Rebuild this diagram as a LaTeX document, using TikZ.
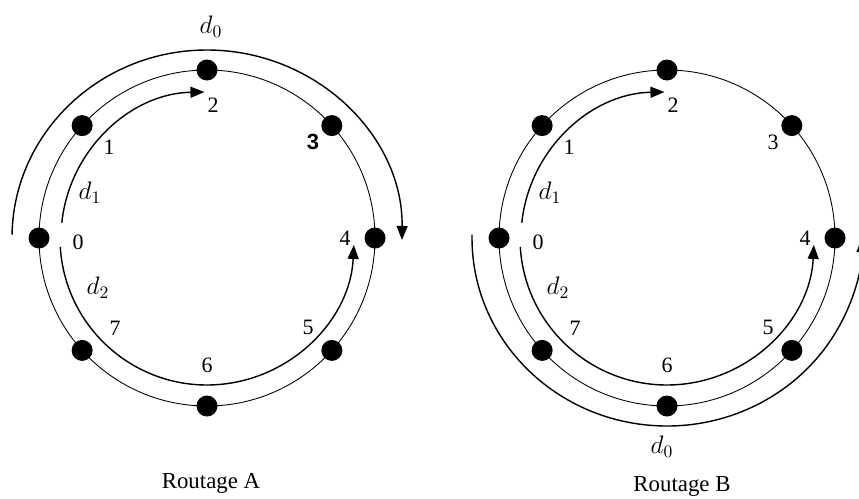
\documentclass[tikz,border=0pt]{standalone}
\usepackage{fontspec}
\setmainfont{Liberation Serif}
\newfontfamily\boldsans{Liberation Sans}
\usepackage{tikz}
\usetikzlibrary{arrows.meta}

\begin{document}
\begin{tikzpicture}[x=0.2mm,y=0.2mm,>={Triangle[length=2.8mm,width=2.2mm]},
  ring/.style={line width=0.5pt},
  station/.style={circle,fill=black,inner sep=0pt,minimum size=4.2mm},
  route/.style={line width=0.8pt,->},
  lbl/.style={font=\fontsize{12.5}{14}\selectfont,inner sep=0pt},
  dlbl/.style={font=\fontsize{14}{16}\selectfont,inner sep=0pt}]
\useasboundingbox (0,0) rectangle (859,498);
\foreach \r/\cx in {A/207,B/667}{
  \coordinate (c\r) at (\cx,260);
  \draw[ring] (c\r) circle[radius=168];
  \foreach \k/\a in {0/180,1/138,2/90,3/42,4/0,5/-42,6/-90,7/-138}
    \node[station] (\r\k) at ([shift={(\a:168)}]c\r) {};
  \foreach \k/\dx/\dy in {0/-129/-4,1/-98/91,2/6/133,4/138/0,5/101/-89,6/0/-127,7/-92/-90}
    \node[lbl] (\r-l\k) at ([shift={(\dx,\dy)}]c\r) {\k};
  % d1 and d2
  \draw[route] ([shift={(174:146)}]c\r) arc[start angle=174,end angle=91,radius=146];
  \draw[route] ([shift={(183.5:147)}]c\r) arc[start angle=183.5,end angle=357.3,radius=147];
  \node[dlbl] (\r-d1) at ([shift={(-117,45)}]c\r) {$d_1$};
  \node[dlbl] (\r-d2) at ([shift={(-109,-50)}]c\r) {$d_2$};
}
\node[lbl] (A-l3) at ([shift={(106,96)}]cA) {\boldsans\bfseries 3};
\node[lbl] (B-l3) at ([shift={(106,96)}]cB) {3};
% d0
\draw[route] ([shift={(179:195 and 188)}]cA) arc[start angle=179,end angle=-0.6,x radius=195,y radius=188];
\draw[route] ([shift={(179:195 and 188)}]cB) arc[start angle=179,end angle=360,x radius=195,y radius=188];
\node[dlbl] (A-d0) at (211,471) {$d_0$};
\node[dlbl] (B-d0) at (662,51) {$d_0$};
\node[lbl,font=\fontsize{13}{15}\selectfont] (capA) at (211,15) {Routage A};
\node[lbl,font=\fontsize{13}{15}\selectfont] (capB) at (682,12) {Routage B};
\end{tikzpicture}
\end{document}
